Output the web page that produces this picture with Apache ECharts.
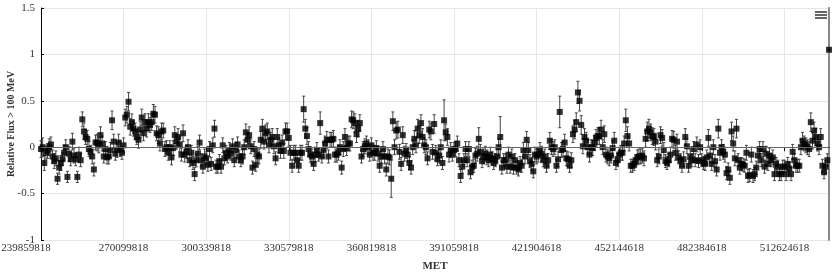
<!DOCTYPE html>
<html><head><meta charset="utf-8">
<script src="https://cdn.jsdelivr.net/npm/echarts@6/dist/echarts.min.js"></script>
<style>html,body{margin:0;padding:0;background:#fff}#c{width:836px;height:273px}</style>
</head><body><div id="c"></div>
<script>
// Weekly MET bins (one week missing between 391059818 and 421904618)
const metStart = 239859818;
const metStep = 604800;
const skippedWeekIndex = 290;

const values = [
-0.02,0.0,-0.17,-0.06,-0.04,0.0,0.03,-0.1,-0.15,-0.12,-0.34,-0.22,-0.17,-0.13,-0.06,0.0,-0.32,-0.07,-0.13,0.06,
-0.09,-0.13,-0.32,-0.08,-0.14,0.30,0.17,0.11,0.09,-0.02,-0.05,-0.10,-0.24,0.05,0.05,0.02,0.13,0.04,-0.10,-0.02,
-0.11,-0.10,-0.03,0.29,0.06,-0.07,-0.03,0.05,-0.02,-0.06,0.02,0.32,0.35,0.49,0.22,0.27,0.20,0.17,0.11,0.08,
0.19,0.32,0.15,0.27,0.20,0.27,0.24,0.27,0.36,0.35,0.15,0.13,0.04,0.17,0.18,-0.02,0.0,-0.06,0.0,-0.11,
-0.01,0.13,0.06,0.11,0.03,-0.08,0.15,-0.08,-0.05,0.0,-0.14,-0.06,-0.17,-0.29,-0.14,-0.07,0.05,-0.14,-0.21,-0.10,
-0.12,-0.19,-0.02,-0.18,0.02,0.20,-0.21,-0.21,-0.15,-0.21,0.02,-0.12,-0.06,-0.10,-0.03,-0.07,0.01,-0.14,-0.03,0.03,
-0.10,-0.14,-0.10,0.0,0.16,0.08,0.13,0.01,-0.22,-0.02,-0.19,-0.08,-0.10,0.08,0.20,0.06,0.15,0.17,0.02,0.08,
0.11,0.01,-0.12,0.11,0.02,-0.04,0.05,-0.04,0.17,0.17,0.10,-0.06,-0.20,-0.06,-0.06,-0.14,-0.20,-0.06,-0.06,0.41,
0.20,0.12,-0.02,-0.08,-0.10,-0.18,-0.08,-0.03,-0.08,0.26,-0.10,-0.03,0.04,0.08,-0.10,0.08,0.08,0.09,-0.08,-0.08,
-0.06,0.0,-0.22,-0.02,0.11,-0.01,0.04,0.04,0.30,0.29,0.26,0.14,0.20,0.26,-0.10,-0.02,0.01,0.04,0.0,-0.08,
0.02,-0.06,-0.06,-0.01,-0.07,-0.20,-0.10,-0.02,-0.10,-0.24,-0.10,-0.11,-0.34,0.28,0.0,0.18,0.19,-0.05,-0.18,0.13,
-0.07,-0.04,-0.08,-0.17,-0.22,0.0,0.09,0.02,0.20,0.13,0.26,0.11,0.02,0.0,-0.12,0.19,0.17,-0.05,0.25,-0.06,
-0.13,-0.09,0.0,-0.17,0.29,0.16,0.11,-0.08,-0.03,-0.07,-0.03,-0.02,0.04,-0.14,-0.31,-0.21,-0.14,-0.02,-0.14,-0.02,
-0.27,-0.21,-0.20,-0.09,-0.07,0.09,-0.05,-0.15,-0.10,-0.07,-0.11,-0.14,-0.08,-0.12,-0.17,-0.14,-0.10,0.0,0.11,-0.22,
-0.14,-0.14,-0.21,-0.08,-0.21,-0.10,-0.22,-0.14,-0.22,-0.24,-0.17,-0.20,-0.03,-0.10,0.08,-0.03,-0.15,-0.18,-0.26,-0.08,
-0.10,-0.08,-0.03,-0.07,-0.14,-0.10,-0.20,-0.14,0.07,0.0,-0.02,0.0,-0.20,-0.13,0.38,-0.03,-0.02,0.05,-0.12,-0.13,
-0.20,-0.14,0.14,0.19,0.27,0.59,0.50,0.24,0.01,0.11,0.07,0.0,-0.08,0.0,-0.01,0.05,0.10,0.12,0.12,0.19,
0.0,0.14,-0.08,-0.10,-0.12,-0.09,-0.01,0.07,-0.17,-0.14,-0.08,-0.06,-0.06,0.04,0.29,0.12,0.04,-0.20,-0.20,-0.18,
-0.15,-0.11,-0.10,-0.10,-0.09,-0.12,0.09,0.17,0.20,0.16,0.12,0.11,0.06,-0.14,-0.10,0.13,0.10,-0.03,-0.15,-0.17,
-0.14,-0.08,0.09,0.08,-0.06,0.06,-0.11,-0.14,-0.20,-0.13,0.11,0.01,-0.20,-0.10,-0.14,-0.02,-0.14,0.03,-0.15,0.0,
-0.14,-0.17,-0.18,-0.11,0.10,-0.09,-0.18,0.0,-0.15,-0.24,0.20,-0.06,0.0,-0.05,-0.08,-0.28,-0.24,-0.33,0.17,0.04,
-0.12,0.20,-0.14,-0.22,-0.18,-0.19,-0.20,-0.06,-0.31,-0.30,-0.08,-0.31,-0.29,-0.22,-0.09,-0.02,-0.14,-0.02,-0.21,-0.07,
-0.18,-0.09,-0.14,-0.11,-0.29,-0.18,-0.21,-0.29,-0.29,-0.21,-0.21,-0.29,-0.18,-0.23,-0.29,-0.05,-0.14,-0.20,-0.20,-0.20,
0.0,0.07,0.04,0.02,0.0,-0.02,0.27,0.07,0.18,0.11,0.04,0.0,0.11,-0.20,-0.27,-0.21,-0.14,1.05
];

const errors = [
0.09,0.10,0.08,0.07,0.08,0.09,0.08,0.07,0.08,0.08,0.06,0.07,0.08,0.07,0.08,0.08,0.06,0.08,0.07,0.09,
0.08,0.07,0.06,0.08,0.07,0.08,0.09,0.08,0.09,0.08,0.07,0.08,0.07,0.08,0.09,0.08,0.09,0.08,0.07,0.08,
0.07,0.08,0.08,0.10,0.08,0.07,0.08,0.09,0.08,0.07,0.08,0.09,0.09,0.10,0.09,0.09,0.08,0.09,0.08,0.09,
0.09,0.09,0.08,0.09,0.09,0.09,0.08,0.09,0.10,0.09,0.08,0.09,0.08,0.09,0.08,0.08,0.07,0.08,0.07,0.08,
0.08,0.09,0.08,0.09,0.08,0.07,0.09,0.08,0.07,0.08,0.07,0.08,0.07,0.07,0.07,0.08,0.08,0.07,0.07,0.08,
0.07,0.07,0.08,0.07,0.08,0.09,0.07,0.07,0.07,0.07,0.08,0.07,0.08,0.07,0.08,0.07,0.08,0.07,0.08,0.08,
0.07,0.07,0.08,0.08,0.09,0.08,0.09,0.08,0.07,0.08,0.07,0.07,0.08,0.09,0.10,0.08,0.09,0.09,0.08,0.08,
0.09,0.08,0.07,0.09,0.08,0.08,0.08,0.08,0.09,0.09,0.09,0.08,0.07,0.08,0.08,0.07,0.07,0.08,0.08,0.14,
0.10,0.09,0.08,0.08,0.08,0.07,0.08,0.08,0.07,0.12,0.07,0.08,0.08,0.09,0.07,0.08,0.08,0.09,0.08,0.08,
0.08,0.08,0.07,0.08,0.09,0.08,0.08,0.08,0.09,0.09,0.10,0.09,0.09,0.09,0.07,0.08,0.08,0.08,0.08,0.07,
0.08,0.08,0.08,0.08,0.08,0.07,0.07,0.08,0.08,0.07,0.08,0.08,0.20,0.10,0.08,0.09,0.09,0.08,0.07,0.09,
0.08,0.08,0.08,0.07,0.07,0.08,0.09,0.08,0.10,0.09,0.09,0.09,0.08,0.08,0.07,0.09,0.09,0.08,0.10,0.08,
0.07,0.08,0.08,0.07,0.22,0.09,0.09,0.08,0.08,0.08,0.08,0.08,0.08,0.07,0.07,0.07,0.07,0.08,0.07,0.08,
0.07,0.07,0.07,0.08,0.08,0.12,0.08,0.07,0.08,0.08,0.08,0.07,0.08,0.07,0.07,0.07,0.08,0.09,0.22,0.07,
0.07,0.07,0.07,0.08,0.07,0.08,0.07,0.07,0.07,0.07,0.07,0.07,0.08,0.08,0.09,0.08,0.07,0.07,0.07,0.08,
0.08,0.08,0.08,0.08,0.07,0.08,0.07,0.07,0.09,0.08,0.08,0.08,0.07,0.08,0.17,0.08,0.08,0.09,0.08,0.08,
0.07,0.08,0.09,0.10,0.10,0.12,0.11,0.10,0.08,0.09,0.09,0.08,0.08,0.08,0.08,0.08,0.09,0.09,0.09,0.10,
0.08,0.09,0.08,0.08,0.08,0.08,0.08,0.09,0.07,0.07,0.08,0.08,0.08,0.08,0.12,0.10,0.08,0.07,0.07,0.07,
0.07,0.08,0.08,0.08,0.08,0.08,0.09,0.10,0.10,0.09,0.09,0.09,0.09,0.07,0.08,0.09,0.09,0.08,0.07,0.07,
0.07,0.08,0.09,0.09,0.08,0.08,0.07,0.07,0.07,0.08,0.09,0.08,0.07,0.08,0.07,0.08,0.07,0.08,0.07,0.08,
0.07,0.07,0.07,0.08,0.09,0.08,0.07,0.08,0.07,0.07,0.10,0.08,0.08,0.08,0.08,0.07,0.07,0.07,0.10,0.08,
0.08,0.10,0.07,0.07,0.07,0.07,0.07,0.08,0.07,0.07,0.08,0.07,0.07,0.07,0.08,0.08,0.07,0.08,0.07,0.08,
0.07,0.08,0.07,0.08,0.07,0.07,0.07,0.07,0.07,0.07,0.07,0.07,0.07,0.07,0.07,0.08,0.07,0.07,0.07,0.07,
0.08,0.09,0.08,0.08,0.08,0.08,0.10,0.09,0.09,0.09,0.08,0.08,0.09,0.07,0.07,0.07,0.07,0.0
];

const categories = [];
(function(){ let t = metStart; for (let i = 0; i < values.length; i++) { if (i === skippedWeekIndex) t += metStep; categories.push(String(t)); t += metStep; } })();

const errData = values.map((v, i) => [i, v - errors[i], v + errors[i]]);
const FONT = 'Liberation Serif';

const chart = echarts.init(document.getElementById('c'), null, {renderer: 'canvas'});
chart.setOption({
  animation: false,
  backgroundColor: '#fff',
  grid: {left: 41, right: 7, top: 8, bottom: 33, outerBoundsMode: 'none', containLabel: false},
  xAxis: [{
    type: 'category', data: categories, boundaryGap: false,
    axisLine: {lineStyle: {color: '#000', width: 1}},
    axisTick: {show: true, interval: 49, length: 4, lineStyle: {color: '#000'}},
    axisLabel: {
      interval: 49, color: '#333', fontFamily: FONT, fontSize: 11, margin: 3,
      formatter: function (v, idx) { return idx === 0 ? '{first|' + v + '}' : v; },
      rich: {first: {color: '#333', fontFamily: FONT, fontSize: 11, padding: [0, 30, 0, 0]}}
    },
    splitLine: {show: true, interval: 49, lineStyle: {color: '#e6e6e6'}},
    name: 'MET', nameLocation: 'middle', nameGap: 21, nameMoveOverlap: false,
    nameTextStyle: {fontWeight: 'bold', fontFamily: FONT, fontSize: 11, color: '#333'}
  }, {
    type: 'category', data: categories, boundaryGap: false, position: 'top',
    axisLine: {lineStyle: {color: '#000', width: 1}},
    axisTick: {show: false}, axisLabel: {show: false}, splitLine: {show: false}
  }],
  yAxis: [{
    type: 'value', min: -1, max: 1.5, interval: 0.5,
    axisLine: {show: true, lineStyle: {color: '#000', width: 1}},
    axisTick: {show: true, inside: true, length: 3, lineStyle: {color: '#000'}},
    axisLabel: {color: '#333', fontFamily: FONT, fontSize: 11, margin: 6},
    splitLine: {show: true, lineStyle: {color: '#e6e6e6'}},
    name: 'Relative Flux > 100 MeV', nameLocation: 'middle', nameGap: 25, nameMoveOverlap: false,
    nameTextStyle: {fontWeight: 'bold', fontFamily: FONT, fontSize: 10, color: '#333'}
  }, {
    type: 'value', min: -1, max: 1.5, interval: 0.5, position: 'right',
    axisLine: {show: true, lineStyle: {color: '#8a8a8a', width: 2}},
    axisTick: {show: false}, axisLabel: {show: false}, splitLine: {show: false}
  }],
  graphic: [
    {type: 'rect', shape: {x: 815, y: 11, width: 12, height: 2}, style: {fill: '#666'}},
    {type: 'rect', shape: {x: 815, y: 14, width: 12, height: 2}, style: {fill: '#666'}},
    {type: 'rect', shape: {x: 815, y: 17, width: 12, height: 2}, style: {fill: '#666'}}
  ],
  series: [{
    type: 'custom', name: 'err', data: errData, encode: {x: 0, y: [1, 2]}, z: 2,
    renderItem: function (params, api) {
      const i = api.value(0);
      const lo = api.coord([i, api.value(1)]);
      const hi = api.coord([i, api.value(2)]);
      const w = 1.5;
      const st = {stroke: '#444', lineWidth: 1};
      return {type: 'group', children: [
        {type: 'line', shape: {x1: lo[0], y1: lo[1], x2: hi[0], y2: hi[1]}, style: st},
        {type: 'line', shape: {x1: lo[0] - w, y1: lo[1], x2: lo[0] + w, y2: lo[1]}, style: st},
        {type: 'line', shape: {x1: hi[0] - w, y1: hi[1], x2: hi[0] + w, y2: hi[1]}, style: st}
      ]};
    }
  }, {
    type: 'scatter', name: 'flux', data: values, symbol: 'rect', symbolSize: 6, z: 3,
    itemStyle: {color: '#000'},
    markLine: {silent: true, symbol: 'none', label: {show: false},
      lineStyle: {color: '#666', type: 'solid', width: 1}, data: [{yAxis: 0}]}
  }]
});
</script></body></html>
